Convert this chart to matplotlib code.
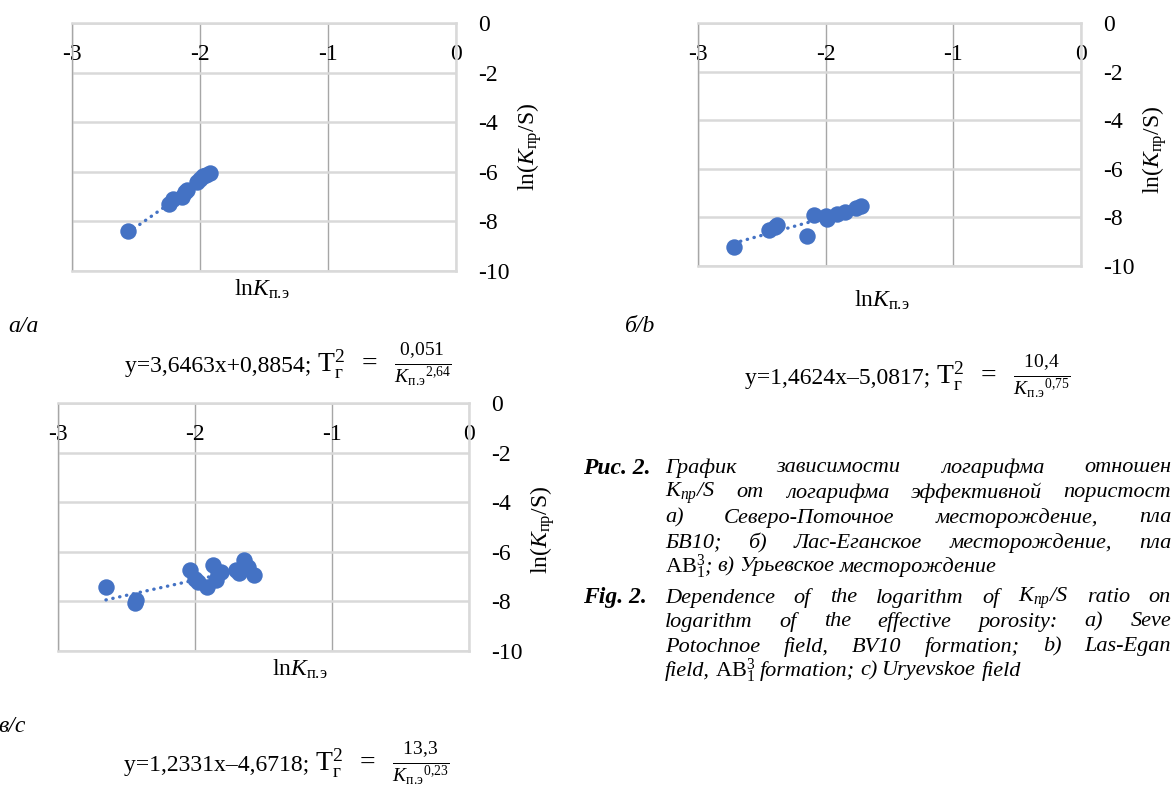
import numpy as np
import matplotlib
matplotlib.use('Agg')
import matplotlib.pyplot as plt

plt.rcParams['font.family'] = ['Liberation Serif', 'DejaVu Serif']
plt.rcParams['mathtext.fontset'] = 'custom'
plt.rcParams['mathtext.rm'] = 'Liberation Serif'
plt.rcParams['mathtext.it'] = 'Liberation Serif:italic'
plt.rcParams['mathtext.bf'] = 'Liberation Serif:bold'
plt.rcParams['axes.unicode_minus'] = False

# lnK_пэ (x) and ln(K_пр/S) (y) for the three fields
a_x = [-2.56, -2.24, -2.21, -2.14, -2.12, -2.10, -2.02, -2.00, -1.98, -1.95, -1.92]
a_y = [-8.40, -7.28, -7.08, -7.00, -6.80, -6.72, -6.40, -6.30, -6.18, -6.12, -6.05]

b_x = [-2.72, -2.44, -2.40, -2.38, -2.15, -2.09, -2.00, -1.99, -1.91, -1.85, -1.76, -1.72]
b_y = [-9.20, -8.52, -8.38, -8.32, -8.75, -7.92, -7.95, -8.08, -7.88, -7.78, -7.60, -7.55]

c_x = [-2.65, -2.44, -2.43, -2.04, -2.00, -1.98, -1.91, -1.87, -1.85, -1.83, -1.81,
       -1.70, -1.68, -1.64, -1.61, -1.57]
c_y = [-7.43, -8.05, -7.95, -6.74, -7.10, -7.20, -7.43, -6.52, -7.15, -6.88, -6.80,
       -6.75, -6.85, -6.34, -6.60, -6.95]

# linear trends y = k*x + b and the power-law forms
slopes = [3.6463, 1.4624, 1.2331]
intercepts = [0.8854, -5.0817, -4.6718]
coefs = ['0,051', '10,4', '13,3']
powers = ['2,64', '0,75', '0,23']
tags = ['a/a', 'б/b', 'в/c']

x_ticks = [-3, -2, -1, 0]
y_ticks = [0, -2, -4, -6, -8, -10]

W, H = 1173, 787
fig = plt.figure(figsize=(W / 100, H / 100), dpi=100)
renderer = fig.canvas.get_renderer()
blue = '#4472c4'
K_pe = r'K_{\mathrm{п.\!э}}'


def rect(l, t, r, b):
    return [l / W, 1 - b / H, (r - l) / W, (b - t) / H]


def ftext(x, y, s, **kw):
    return fig.text(x / W, 1 - y / H, s, **kw)


def width(t):
    return t.get_window_extent(renderer).width


def equation(cx, base_y, k, b, coef, pw):
    sign = '+' if b >= 0 else '–'
    lin = f'y={k:.4f}x{sign}{abs(b):.4f}; '.replace('.', ',')
    c = coef.replace(',', '{,}')
    p = pw.replace(',', '{,}')
    frac = (r'$\mathrm{T}_{\mathrm{г}}^{2}\ \ =\ \ \frac{' + c +
            '}{' + K_pe + '{}^{' + p + '}}$')
    t1 = ftext(0, base_y, lin, fontsize=17, va='baseline')
    t2 = ftext(0, base_y, frac, fontsize=20, va='baseline')
    w1, w2 = width(t1), width(t2)
    x0 = cx - (w1 + w2) / 2
    t1.set_x(x0 / W)
    t2.set_x((x0 + w1) / W)


def panel(box, xs, ys, k, b):
    ax = fig.add_axes(rect(*box))
    ax.set_xlim(-3, 0)
    ax.set_ylim(-10, 0)
    ax.set_xticks(x_ticks)
    ax.set_yticks(y_ticks)
    ax.set_xticklabels([str(v) for v in x_ticks])
    ax.set_yticklabels([str(v) for v in y_ticks])
    ax.xaxis.tick_top()
    ax.yaxis.tick_right()
    ax.tick_params(axis='x', length=0, pad=-30, labelsize=17)
    ax.tick_params(axis='y', length=0, pad=16, labelsize=17)
    ax.set_axisbelow(True)
    ax.xaxis.grid(True, color='#a6a6a6', lw=1)
    ax.yaxis.grid(True, color='#d9d9d9', lw=1.8)
    ax.spines['left'].set_color('#a6a6a6')
    ax.spines['left'].set_linewidth(1)
    for s in ['right', 'top', 'bottom']:
        ax.spines[s].set_color('#d9d9d9')
        ax.spines[s].set_linewidth(1.8)
    xf = np.array([min(xs), max(xs)])
    ax.plot(xf, k * xf + b, color=blue, lw=2.4, linestyle=(0, (0.1, 2.0)),
            dash_capstyle='round', zorder=2)
    ax.scatter(xs, ys, s=140, color=blue, linewidths=0, zorder=3)
    return ax


boxes = [(72, 23, 456, 271), (698, 23, 1081, 266), (58, 403, 469, 651)]
data = [(a_x, a_y), (b_x, b_y), (c_x, c_y)]
xlabel_pos = [(262, 289), (882, 300), (300, 669)]
ylabel_pos = [(530, 147), (1155, 150), (543, 530)]
tag_pos = [(8, 327), (625, 327), (-2, 727)]
eq_pos = [(288, 372), (908, 384), (287, 771)]

for i in range(3):
    panel(boxes[i], data[i][0], data[i][1], slopes[i], intercepts[i])
    ftext(*xlabel_pos[i], r'ln$' + K_pe + '$', fontsize=17, ha='center', va='center')
    ftext(*ylabel_pos[i], r'ln($K_{\mathrm{пр}}$/S)', fontsize=17, ha='center', va='center',
          rotation=90)
    ftext(*tag_pos[i], tags[i], fontsize=17, style='italic', ha='left', va='center')
    equation(*eq_pos[i], slopes[i], intercepts[i], coefs[i], powers[i])

# figure caption: justified lines that run up to the right edge
cap = dict(fontsize=16, style='italic', va='center', ha='left')


def line(words, y, x0=665, x1=1171):
    items = [ftext(0, y, w, **cap) for w in words]
    widths = [width(t) for t in items]
    if x1 is None:
        gap = 5
    else:
        gap = (x1 - x0 - sum(widths)) / max(len(words) - 1, 1)
    x = x0
    for t, w in zip(items, widths):
        t.set_x(x / W)
        x += w + gap


ftext(583, 468, 'Рис. 2.', fontsize=17, style='italic', weight='bold', va='center')
line(['График', 'зависимости', 'логарифма', 'отношен'], 468)
line(['$K_{пр}$/S', 'от', 'логарифма', 'эффективной', 'пористост'], 493)
line(['а)', 'Северо-Поточное', 'месторождение,', 'пла'], 518)
line(['БВ10;', 'б)', 'Лас-Еганское', 'месторождение,', 'пла'], 543)
line([r'$\mathrm{AB}_{1}^{3}$;', 'в)', 'Урьевское', 'месторождение'], 567, x1=None)

ftext(583, 598, 'Fig. 2.', fontsize=17, style='italic', weight='bold', va='center')
line(['Dependence', 'of', 'the', 'logarithm', 'of', '$K_{пр}$/S', 'ratio', 'on'], 598)
line(['logarithm', 'of', 'the', 'effective', 'porosity:', 'a)', 'Seve'], 622)
line(['Potochnoe', 'field,', 'BV10', 'formation;', 'b)', 'Las-Egan'], 647)
line(['field,', r'$\mathrm{AB}_{1}^{3}$', 'formation;', 'c)', 'Uryevskoe', 'field'], 671, x1=None)

fig.savefig('out.png', dpi=100)
